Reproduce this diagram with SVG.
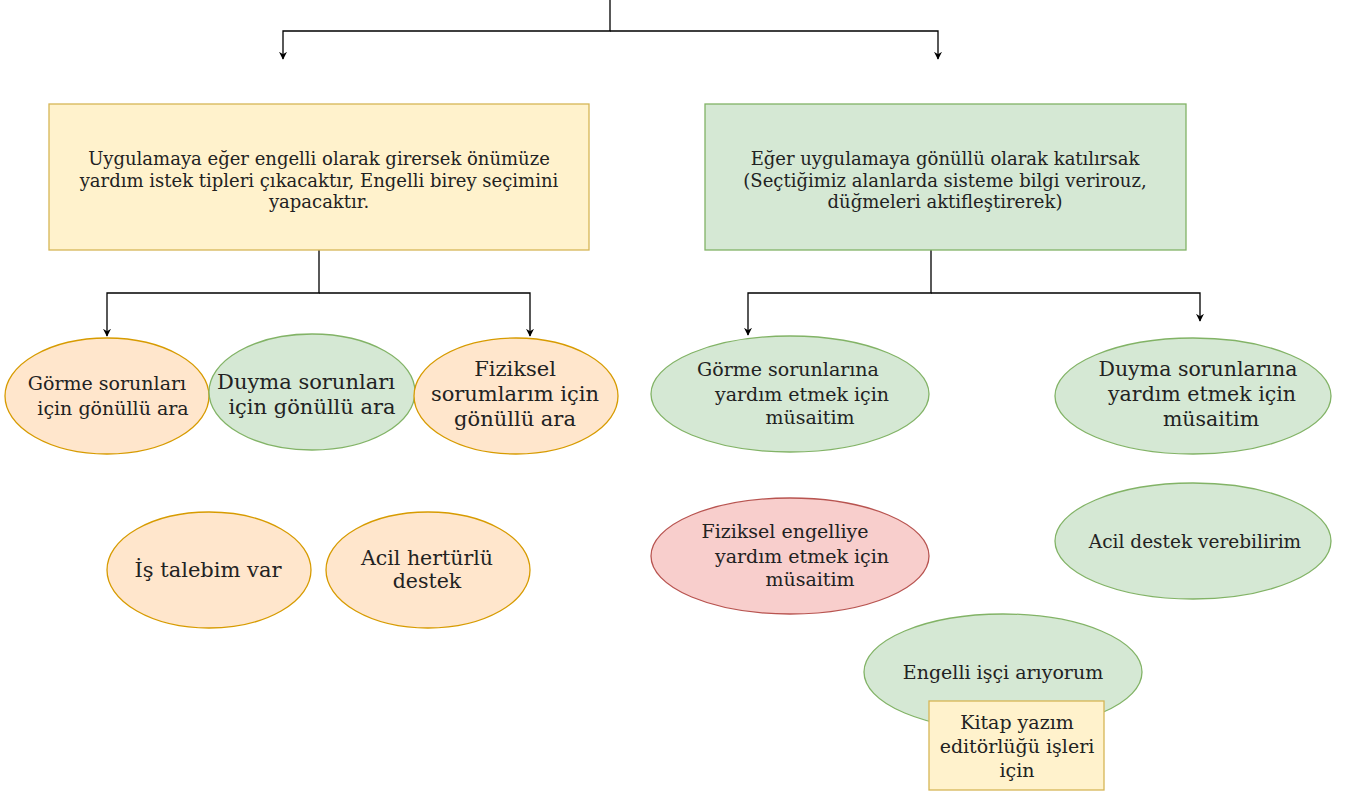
<svg xmlns="http://www.w3.org/2000/svg" width="1347" height="791" viewBox="0 0 1347 791">
<style>
text{font-family:"DejaVu Serif","Liberation Serif",serif;fill:#222;text-anchor:middle}
.y{fill:#fff2cc;stroke:#d6b656;stroke-width:1.3}
.g{fill:#d5e8d4;stroke:#82b366;stroke-width:1.3}
.o{fill:#ffe6cc;stroke:#d79b00;stroke-width:1.3}
.r{fill:#f8cecc;stroke:#b85450;stroke-width:1.3}
.c{fill:none;stroke:#000;stroke-width:1.3}
.s18{font-size:18px}.s185{font-size:18.5px}.s19{font-size:19px}.s20{font-size:20.5px}.s21{font-size:21px}
</style>
<defs>
<marker id="a" viewBox="0 0 10 10" refX="9" refY="5" markerWidth="8" markerHeight="8" markerUnits="userSpaceOnUse" orient="auto">
<path d="M0,0 L10,5 L0,10 L3,5 Z" fill="#000"/>
</marker>
</defs>
<rect width="1347" height="791" fill="#fff"/>
<g id="connectors">
<path class="c" d="M610,0 V31 H283 V59" marker-end="url(#a)"/>
<path class="c" d="M610,31 H938 V59" marker-end="url(#a)"/>
<path class="c" d="M319,250 V293 H107 V336" marker-end="url(#a)"/>
<path class="c" d="M319,293 H530 V336" marker-end="url(#a)"/>
<path class="c" d="M931,250 V293 H748 V335" marker-end="url(#a)"/>
<path class="c" d="M931,293 H1200 V321" marker-end="url(#a)"/>
</g>
<g id="box-engelli">
<rect class="y" x="49" y="104" width="540" height="146"/>
<text class="s18" x="319" y="165">Uygulamaya eğer engelli olarak girersek önümüze</text>
<text class="s18" x="319" y="187">yardım istek tipleri çıkacaktır, Engelli birey seçimini</text>
<text class="s18" x="319" y="208">yapacaktır.</text>
</g>
<g id="box-gonullu">
<rect class="g" x="705" y="104" width="481" height="146"/>
<text class="s18" x="945" y="165">Eğer uygulamaya gönüllü olarak katılırsak</text>
<text class="s18" x="945" y="187">(Seçtiğimiz alanlarda sisteme bilgi verirouz,</text>
<text class="s18" x="945" y="208">düğmeleri aktifleştirerek)</text>
</g>
<g id="e-gorme">
<ellipse class="o" cx="107" cy="396" rx="102" ry="58"/>
<text class="s19" x="107" y="390">Görme sorunları</text>
<text class="s19" x="113" y="415">için gönüllü ara</text>
</g>
<g id="e-duyma">
<ellipse class="g" cx="312" cy="392" rx="103" ry="58"/>
<text class="s21" x="306" y="389">Duyma sorunları</text>
<text class="s21" x="312" y="414">için gönüllü ara</text>
</g>
<g id="e-fiziksel">
<ellipse class="o" cx="516" cy="396" rx="102" ry="58"/>
<text class="s21" x="515" y="376">Fiziksel</text>
<text class="s21" x="515" y="401">sorumlarım için</text>
<text class="s21" x="515" y="426">gönüllü ara</text>
</g>
<g id="e-is">
<ellipse class="o" cx="209" cy="570" rx="102" ry="58"/>
<text class="s21" x="208" y="577">İş talebim var</text>
</g>
<g id="e-acil">
<ellipse class="o" cx="428" cy="570" rx="102" ry="58"/>
<text class="s20" x="427" y="565">Acil hertürlü</text>
<text class="s20" x="427" y="588">destek</text>
</g>
<g id="e-gorme2">
<ellipse class="g" cx="790" cy="394" rx="139" ry="58"/>
<text class="s19" x="788" y="376">Görme sorunlarına</text>
<text class="s19" x="802" y="401">yardım etmek için</text>
<text class="s19" x="810" y="424">müsaitim</text>
</g>
<g id="e-duyma2">
<ellipse class="g" cx="1193" cy="396" rx="138" ry="58"/>
<text class="s20" x="1198" y="376">Duyma sorunlarına</text>
<text class="s20" x="1202" y="401">yardım etmek için</text>
<text class="s20" x="1211" y="426">müsaitim</text>
</g>
<g id="e-fiziksel2">
<ellipse class="r" cx="790" cy="556" rx="139" ry="58"/>
<text class="s19" x="785" y="538">Fiziksel engelliye</text>
<text class="s19" x="802" y="563">yardım etmek için</text>
<text class="s19" x="810" y="586">müsaitim</text>
</g>
<g id="e-acil2">
<ellipse class="g" cx="1193" cy="541" rx="138" ry="58"/>
<text class="s185" x="1195" y="548">Acil destek verebilirim</text>
</g>
<g id="e-isci">
<ellipse class="g" cx="1003" cy="672" rx="139" ry="58"/>
<text class="s19" x="1003" y="679">Engelli işçi arıyorum</text>
</g>
<g id="box-kitap">
<rect class="y" x="929" y="701" width="175" height="89"/>
<text class="s19" x="1017" y="729">Kitap yazım</text>
<text class="s19" x="1017" y="753">editörlüğü işleri</text>
<text class="s19" x="1017" y="777">için</text>
</g>
</svg>
